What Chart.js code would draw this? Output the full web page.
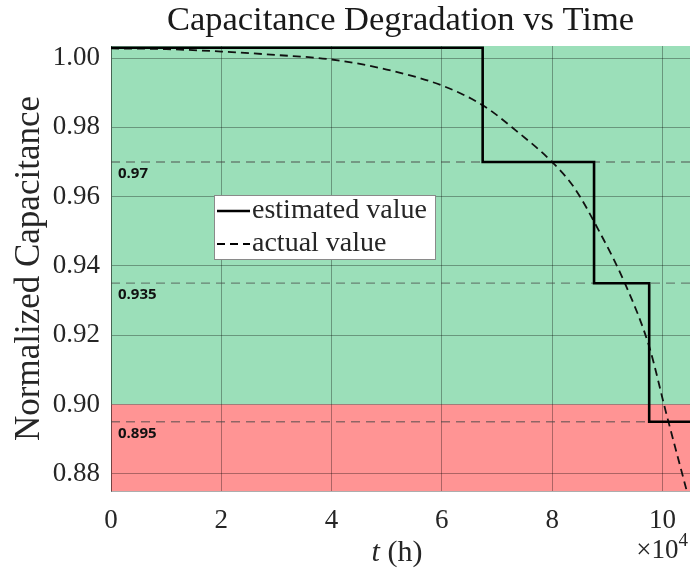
<!DOCTYPE html>
<html>
<head>
<meta charset="utf-8">
<script src="https://cdn.jsdelivr.net/npm/chart.js@4.4.1/dist/chart.umd.min.js"></script>
<style>
  body { margin: 0; background: #fff; }
  canvas { display: block; }
</style>
</head>
<body>
<canvas id="capChart" width="690" height="572"></canvas>
<script>
// time axis in units of 1e4 hours
const xTicks = [0, 2, 4, 6, 8, 10];
const yTicks = [0.88, 0.90, 0.92, 0.94, 0.96, 0.98, 1.00];

// estimated capacitance, held constant between updates
const estTimes = [0, 6.74, 8.76, 9.76, 10.5];
const estValues = [1.003, 0.97, 0.935, 0.895, 0.895];

// actual capacitance curve
const actualTimes = [0, 1, 2, 3, 4, 5, 6, 6.75, 7.35, 8, 8.4, 8.85, 9.33, 9.76, 10.06, 10.25, 10.5];
const actualValues = [1.0028, 1.0026, 1.0019, 1.0009, 0.9996, 0.9967, 0.9921, 0.9863, 0.979, 0.970,
                      0.9626, 0.9501, 0.9346, 0.9167, 0.898, 0.8865, 0.8715];

// reference levels and end-of-life limit
const thresholdLevels = [0.97, 0.935, 0.895];
const thresholdLabels = ['0.97', '0.935', '0.895'];
const failLimit = 0.90;

const serif = '"Liberation Serif", "Times New Roman", serif';
const textColor = '#262626';

Chart.defaults.font.family = serif;
Chart.defaults.color = textColor;

const toPoints = (xs, ys) => xs.map((x, i) => ({ x: x, y: ys[i] }));

const datasets = [
  {
    label: 'estimated value',
    data: toPoints(estTimes, estValues),
    stepped: 'before',
    borderColor: '#000',
    borderWidth: 2.6,
    pointRadius: 0,
    fill: false
  },
  {
    label: 'actual value',
    data: toPoints(actualTimes, actualValues),
    borderColor: '#111',
    borderWidth: 1.8,
    borderDash: [8, 5],
    cubicInterpolationMode: 'monotone',
    pointRadius: 0,
    fill: false
  }
];

thresholdLevels.forEach((v, i) => {
  datasets.push({
    label: 'level ' + thresholdLabels[i],
    data: [{ x: 0, y: v }, { x: 10.5, y: v }],
    borderColor: 'rgba(70,70,70,0.6)',
    borderWidth: 1.3,
    borderDash: [9, 6],
    pointRadius: 0,
    fill: false,
    isLevel: true
  });
});

const decor = {
  id: 'decor',
  beforeDraw(chart) {
    const { ctx, chartArea: a, scales: { y } } = chart;
    const yl = y.getPixelForValue(failLimit);
    ctx.save();
    ctx.fillStyle = 'rgb(155,223,185)';
    ctx.fillRect(a.left, a.top, a.width, yl - a.top);
    ctx.fillStyle = 'rgb(255,148,148)';
    ctx.fillRect(a.left, yl, a.width, a.bottom - yl);
    ctx.restore();
  },
  afterDatasetsDraw(chart) {
    const { ctx, chartArea: a, scales: { y } } = chart;
    ctx.save();
    ctx.font = 'bold 15px "Open Sans", "Noto Sans", sans-serif';
    ctx.fillStyle = '#111';
    ctx.textBaseline = 'top';
    ctx.textAlign = 'left';
    thresholdLevels.forEach((v, i) => {
      ctx.fillText(thresholdLabels[i], a.left + 7, y.getPixelForValue(v) + 4);
    });
    ctx.restore();
  },
  afterDraw(chart) {
    const { ctx, chartArea: a } = chart;
    ctx.save();
    ctx.fillStyle = '#1a1a1a';

    // title
    ctx.font = '34.5px ' + serif;
    ctx.textAlign = 'center';
    ctx.textBaseline = 'alphabetic';
    ctx.fillText('Capacitance Degradation vs Time', (a.left + a.right) / 2, 30);

    // y title
    ctx.fillStyle = textColor;
    ctx.save();
    ctx.translate(30, (a.top + a.bottom) / 2);
    ctx.rotate(-Math.PI / 2);
    ctx.font = '35px ' + serif;
    ctx.textBaseline = 'middle';
    ctx.fillText('Normalized Capacitance', 0, 0);
    ctx.restore();

    // x title: italic t followed by unit
    const cx = 397, by = 561;
    ctx.textAlign = 'left';
    ctx.font = 'italic 30px ' + serif;
    const wt = ctx.measureText('t').width;
    ctx.font = '30px ' + serif;
    const wu = ctx.measureText(' (h)').width;
    const x0 = cx - (wt + wu) / 2;
    ctx.font = 'italic 30px ' + serif;
    ctx.fillText('t', x0, by);
    ctx.font = '30px ' + serif;
    ctx.fillText(' (h)', x0 + wt, by);

    // exponent
    ctx.font = '19px ' + serif;
    const w4 = ctx.measureText('4').width;
    ctx.textAlign = 'right';
    ctx.fillText('4', 688, 546);
    ctx.font = '27px ' + serif;
    ctx.fillText('\u00d710', 688 - w4, 558);

    // legend
    const lx = 214, ly = 195, lw = 221, lh = 64;
    ctx.fillStyle = '#fff';
    ctx.fillRect(lx, ly, lw, lh);
    ctx.strokeStyle = '#8a8a8a';
    ctx.lineWidth = 1;
    ctx.strokeRect(lx + 0.5, ly + 0.5, lw, lh);
    ctx.font = '28px ' + serif;
    ctx.textAlign = 'left';
    ctx.textBaseline = 'middle';
    chart.data.datasets.filter(d => !d.isLevel).forEach((d, i) => {
      const ry = ly + 16 + i * 33;
      ctx.strokeStyle = '#000';
      ctx.lineWidth = i === 0 ? 2.6 : 1.8;
      ctx.setLineDash(d.borderDash || []);
      ctx.beginPath();
      ctx.moveTo(lx + 3, ry);
      ctx.lineTo(lx + 36, ry);
      ctx.stroke();
      ctx.setLineDash([]);
      ctx.fillStyle = textColor;
      ctx.fillText(d.label, lx + 38, ry);
    });
    ctx.restore();
  }
};

const gridColor = 'rgba(0,0,0,0.32)';

new Chart(document.getElementById('capChart'), {
  type: 'line',
  data: { datasets: datasets },
  options: {
    responsive: false,
    animation: false,
    devicePixelRatio: 1,
    layout: { padding: { top: 46, left: 0, right: 0, bottom: 0 } },
    plugins: {
      legend: { display: false },
      title: { display: false },
      tooltip: { enabled: false }
    },
    scales: {
      x: {
        type: 'linear',
        min: 0,
        max: 10.5,
        afterBuildTicks: s => { s.ticks = xTicks.map(v => ({ value: v })); },
        afterFit: s => { s.height = 81; },
        grid: { color: gridColor, drawTicks: false },
        border: { color: gridColor },
        ticks: { font: { size: 27 }, padding: 14, maxRotation: 0, callback: v => String(v) }
      },
      y: {
        type: 'linear',
        min: 0.875,
        max: 1.0035,
        afterBuildTicks: s => { s.ticks = yTicks.map(v => ({ value: v })); },
        afterFit: s => { s.width = 111; },
        grid: { color: gridColor, drawTicks: false },
        border: { color: gridColor },
        ticks: { font: { size: 27 }, padding: 11, callback: v => v.toFixed(2) }
      }
    }
  },
  plugins: [decor]
});
</script>
</body>
</html>
